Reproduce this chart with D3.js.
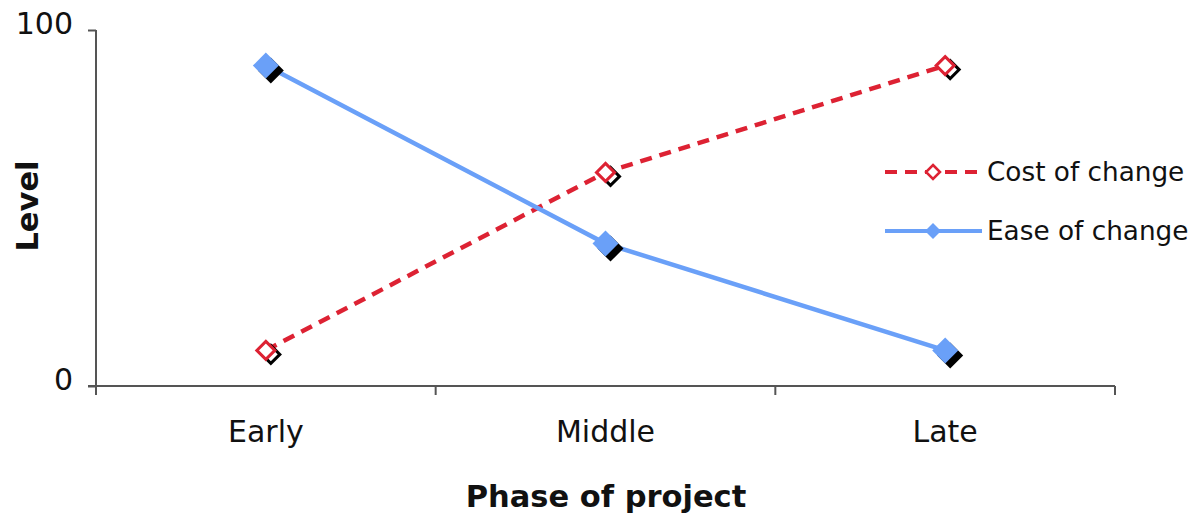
<!DOCTYPE html>
<html><head><meta charset="utf-8">
<script src="https://cdn.jsdelivr.net/npm/d3@7"></script>
<style>body{margin:0;background:#fff}svg{display:block}text{font-family:"DejaVu Sans",Verdana,sans-serif}</style>
</head><body><svg id="c" width="1195" height="518"></svg>
<script>
const categories = ["Early", "Middle", "Late"];
const costValues = [10, 60, 90];
const easeValues = [90, 40, 10];
const yTicks = [0, 100];
const seriesNames = ["Cost of change", "Ease of change"];

const svg = d3.select("#c");
const x = d3.scaleBand().domain(categories).range([96, 1115]).padding(0);
const y = d3.scaleLinear().domain([0, 100]).range([386, 30]);
const cx = d => x(d) + x.bandwidth() / 2;

const red = "#dd2233", blue = "#6aa0f8";

// axes
const xAxis = svg.append("g").attr("transform", "translate(0,386)")
  .call(d3.axisBottom(x).tickSize(0).tickPadding(35));
xAxis.select(".domain").remove();
xAxis.selectAll("text").attr("font-size", 30).attr("fill", "#111").attr("font-family", "DejaVu Sans");
svg.append("line").attr("x1", 88).attr("x2", 1115).attr("y1", 386).attr("y2", 386).attr("stroke", "#555").attr("stroke-width", 2);
const bounds = [...categories.map(c => x(c)), x(categories[categories.length - 1]) + x.bandwidth()];
svg.selectAll(".xt").data(bounds).join("line").attr("x1", d => d).attr("x2", d => d)
  .attr("y1", 386).attr("y2", 395).attr("stroke", "#555").attr("stroke-width", 2);

const yAxis = svg.append("g").attr("transform", "translate(96,0)")
  .call(d3.axisLeft(y).tickValues(yTicks).tickSize(8).tickPadding(15));
yAxis.select(".domain").attr("stroke", "#555").attr("stroke-width", 2).attr("d", "M0,30V395");
yAxis.selectAll(".tick line").attr("stroke", "#555").attr("stroke-width", 2);
yAxis.selectAll("text").attr("font-size", 30).attr("fill", "#111").attr("font-family", "DejaVu Sans").attr("dy", "0.1em");

// axis titles
svg.append("text").attr("x", 606).attr("y", 507).attr("text-anchor", "middle")
  .attr("font-size", 30.5).attr("font-weight", "bold").attr("fill", "#111").text("Phase of project");
svg.append("text").attr("transform", "translate(38,206) rotate(-90)").attr("text-anchor", "middle")
  .attr("font-size", 30.5).attr("font-weight", "bold").attr("fill", "#111").text("Level");

const line = d3.line().x(d => cx(d.c)).y(d => y(d.v));
const costData = categories.map((c, i) => ({c, v: costValues[i]}));
const easeData = categories.map((c, i) => ({c, v: easeValues[i]}));

svg.append("path").datum(costData).attr("d", line).attr("fill", "none").attr("stroke", red)
  .attr("stroke-width", 4.5).attr("stroke-dasharray", "12,8");
svg.append("path").datum(easeData).attr("d", line).attr("fill", "none").attr("stroke", blue)
  .attr("stroke-width", 4.5);

function diamond(s) { return `M0,${-s}L${s},0L0,${s}L${-s},0Z`; }

// cost markers with shadow
costData.forEach(d => {
  svg.append("path").attr("d", diamond(9)).attr("transform", `translate(${cx(d.c) + 5},${y(d.v) + 4})`)
    .attr("fill", "#fff").attr("stroke", "#000").attr("stroke-width", 3);
  svg.append("path").attr("d", diamond(9)).attr("transform", `translate(${cx(d.c)},${y(d.v)})`)
    .attr("fill", "#fff").attr("stroke", red).attr("stroke-width", 3);
});
easeData.forEach(d => {
  svg.append("path").attr("d", diamond(13)).attr("transform", `translate(${cx(d.c) + 5},${y(d.v) + 5})`)
    .attr("fill", "#000");
  svg.append("path").attr("d", diamond(13)).attr("transform", `translate(${cx(d.c)},${y(d.v)})`)
    .attr("fill", blue);
});

// legend
const leg = [{name: seriesNames[0], y: 172, color: red, dash: "12,8", hollow: true},
             {name: seriesNames[1], y: 231, color: blue, dash: null, hollow: false}];
leg.forEach(l => {
  svg.append("line").attr("x1", 885).attr("x2", 982).attr("y1", l.y).attr("y2", l.y)
    .attr("stroke", l.color).attr("stroke-width", 4).attr("stroke-dasharray", l.dash);
  if (l.hollow) svg.append("path").attr("d", diamond(7)).attr("transform", `translate(933,${l.y})`)
    .attr("fill", "#fff").attr("stroke", l.color).attr("stroke-width", 2.5);
  else svg.append("path").attr("d", diamond(8)).attr("transform", `translate(933,${l.y})`).attr("fill", l.color);
  svg.append("text").attr("x", 987).attr("y", l.y).attr("dy", "0.36em").attr("font-size", 26.3)
    .attr("fill", "#111").text(l.name);
});
</script></body></html>
